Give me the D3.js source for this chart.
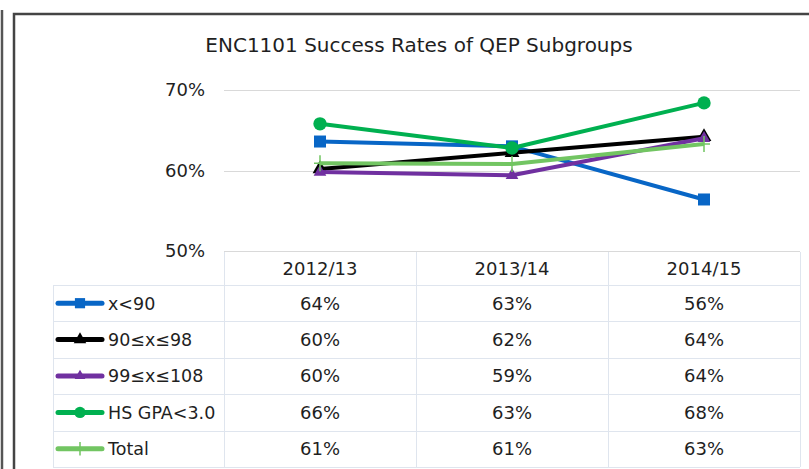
<!DOCTYPE html>
<html>
<head>
<meta charset="utf-8">
<script src="https://cdn.jsdelivr.net/npm/d3@7"></script>
<style>
  body { margin: 0; background: #fff; }
  svg { display: block; font-family: "DejaVu Sans", sans-serif; }
  .grid line { stroke: #d9d9d9; stroke-width: 1; }
  .cell { stroke: #dfe5ee; stroke-width: 1; }
</style>
</head>
<body>
<script>
const width = 809, height = 469;

// years along the table / x axis
const years = ['2012/13', '2013/14', '2014/15'];
// subgroup names (legend / table rows)
const groups = ['x<90', '90≤x≤98', '99≤x≤108', 'HS GPA<3.0', 'Total'];
// success rates
const under90 = [0.636, 0.630, 0.564];
const from90to98 = [0.602, 0.622, 0.642];
const from99to108 = [0.598, 0.594, 0.640];
const gpaUnder3 = [0.658, 0.628, 0.684];
const totalRate = [0.609, 0.608, 0.633];
const yTicks = [0.5, 0.6, 0.7];

const colors = ['#0866c6', '#000000', '#7030a0', '#00b050', '#72c562'];
const seriesValues = [under90, from90to98, from99to108, gpaUnder3, totalRate];

const series = groups.map((name, i) => ({
    name: name,
    color: colors[i],
    values: seriesValues[i].map((v, j) => ({ year: years[j], value: v }))
}));

const pct = d3.format('.0%');

const x = d3.scaleBand().domain(years).range([224, 800]);
const y = d3.scaleLinear().domain([0.5, 0.7]).range([251, 90]);
const row = d3.scaleBand().domain(groups).range([285, 467]);

const svg = d3.select('body').append('svg')
    .attr('width', width)
    .attr('height', height);

// window frame bits around the chart
svg.append('rect').attr('x', 0).attr('y', 10).attr('width', 4).attr('height', height).attr('fill', '#d6d6d6');
svg.append('line').attr('x1', 2).attr('x2', 2).attr('y1', 10).attr('y2', height)
    .attr('stroke', '#555').attr('stroke-width', 2);
svg.append('path')
    .attr('d', `M14,${height}V14H${width}`)
    .attr('fill', 'none')
    .attr('stroke', '#444')
    .attr('stroke-width', 2.5);

svg.append('text')
    .attr('x', 419)
    .attr('y', 52)
    .attr('text-anchor', 'middle')
    .attr('font-size', 20)
    .attr('fill', '#1f1f1f')
    .text('ENC1101 Success Rates of QEP Subgroups');

// gridlines + y labels
const grid = svg.append('g').attr('class', 'grid');
grid.selectAll('line')
    .data(yTicks)
    .join('line')
    .attr('x1', 224).attr('x2', 800)
    .attr('y1', d => Math.round(y(d)) + 0.5)
    .attr('y2', d => Math.round(y(d)) + 0.5);

grid.selectAll('text')
    .data(yTicks)
    .join('text')
    .attr('x', 205)
    .attr('y', d => y(d))
    .attr('dy', '0.36em')
    .attr('text-anchor', 'end')
    .attr('font-size', 18)
    .attr('fill', '#1f1f1f')
    .text(d => pct(d));

// table grid
const table = svg.append('g');
const rowEdges = [285].concat(groups.map(g => row(g) + row.bandwidth()));
table.selectAll('line.h')
    .data(rowEdges)
    .join('line')
    .attr('class', 'cell')
    .attr('x1', 53).attr('x2', 800)
    .attr('y1', d => Math.round(d) + 0.5)
    .attr('y2', d => Math.round(d) + 0.5);

const colEdges = years.map(yr => x(yr)).concat([800]);
table.selectAll('line.v')
    .data(colEdges)
    .join('line')
    .attr('class', 'cell')
    .attr('x1', d => Math.round(d) + 0.5).attr('x2', d => Math.round(d) + 0.5)
    .attr('y1', 252).attr('y2', 467);
table.append('line')
    .attr('class', 'cell')
    .attr('x1', 53.5).attr('x2', 53.5)
    .attr('y1', 285).attr('y2', 467);

table.selectAll('text.year')
    .data(years)
    .join('text')
    .attr('x', d => x(d) + x.bandwidth() / 2)
    .attr('y', 269)
    .attr('dy', '0.36em')
    .attr('text-anchor', 'middle')
    .attr('font-size', 18)
    .attr('fill', '#1f1f1f')
    .text(d => d);

// markers
const markerPath = (i, k) => {
    if (i === 0) return d3.symbol(d3.symbolSquare, 144 * k * k)();
    if (i === 1) return d3.symbol(d3.symbolTriangle, 95 * k * k)();
    if (i === 2) return d3.symbol(d3.symbolTriangle, 70 * k * k)();
    if (i === 3) return d3.symbol(d3.symbolCircle, 140 * k * k)();
    return `M${-6 * k},0H${6 * k}M0,${-8 * k}V${8 * k}`;
};

const line = d3.line()
    .x(d => x(d.year) + x.bandwidth() / 2)
    .y(d => y(d.value));

const sg = svg.selectAll('g.series')
    .data(series)
    .join('g')
    .attr('class', 'series');

sg.append('path')
    .attr('d', d => line(d.values))
    .attr('fill', 'none')
    .attr('stroke', d => d.color)
    .attr('stroke-width', 4)
    .attr('stroke-linejoin', 'round');

sg.each(function(d, i) {
    d3.select(this).selectAll('path.pt')
        .data(d.values)
        .join('path')
        .attr('class', 'pt')
        .attr('transform', v => `translate(${x(v.year) + x.bandwidth() / 2},${y(v.value)})`)
        .attr('d', markerPath(i, 1))
        .attr('fill', i === 4 ? 'none' : d.color)
        .attr('stroke', d.color)
        .attr('stroke-width', i === 4 ? 1.5 : 0);
});

// legend keys and values in the table rows
const rows = svg.selectAll('g.row')
    .data(series)
    .join('g')
    .attr('class', 'row')
    .attr('transform', d => `translate(0,${row(d.name) + row.bandwidth() / 2})`);

rows.append('line')
    .attr('x1', 58).attr('x2', 102)
    .attr('stroke', d => d.color)
    .attr('stroke-width', 5)
    .attr('stroke-linecap', 'round');

rows.append('path')
    .attr('transform', 'translate(80,0)')
    .attr('d', (d, i) => markerPath(i, 0.85))
    .attr('fill', (d, i) => i === 4 ? 'none' : d.color)
    .attr('stroke', d => d.color)
    .attr('stroke-width', (d, i) => i === 4 ? 1.5 : 0);

rows.append('text')
    .attr('x', 108)
    .attr('dy', '0.36em')
    .attr('font-size', 17.5)
    .attr('fill', '#1f1f1f')
    .text(d => d.name);

rows.selectAll('text.val')
    .data(d => d.values)
    .join('text')
    .attr('class', 'val')
    .attr('x', v => x(v.year) + x.bandwidth() / 2)
    .attr('dy', '0.36em')
    .attr('text-anchor', 'middle')
    .attr('font-size', 18)
    .attr('fill', '#1f1f1f')
    .text(v => pct(v.value));
</script>
</body>
</html>
